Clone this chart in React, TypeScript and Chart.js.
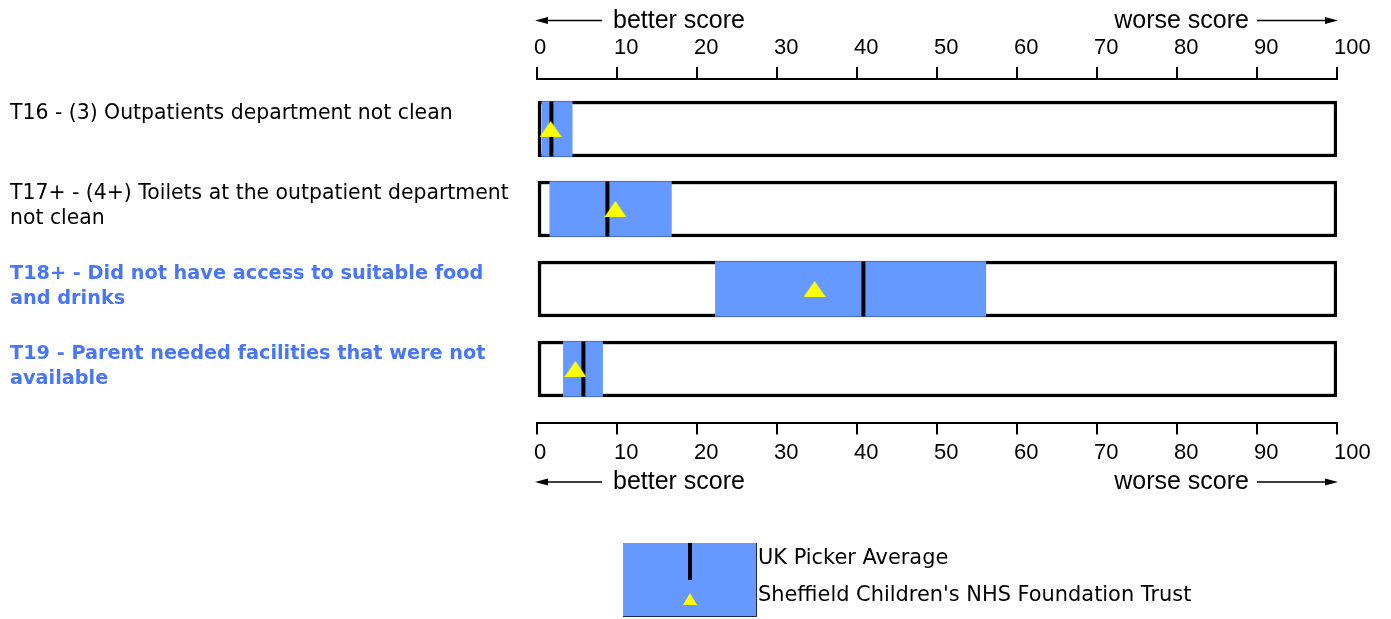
import React, { useEffect, useRef } from "react";
import { Chart, registerables } from "chart.js";

Chart.register(...registerables);

const rowLabels: string[][] = [
  ["T16 - (3) Outpatients department not clean", ""],
  ["T17+ - (4+) Toilets at the outpatient department", "not clean"],
  ["T18+ - Did not have access to suitable food", "and drinks"],
  ["T19 - Parent needed facilities that were not", "available"],
];
const boldRows = [false, false, true, true];
const labelColors = ["#000000", "#000000", "#4876f4", "#4876f4"];

const rangeLow = [0.6, 1.6, 22.3, 3.3];
const rangeHigh = [4.4, 16.8, 56.1, 8.2];
const pickerAverage = [1.8, 8.8, 40.8, 5.8];
const trustScore = [1.7, 9.8, 34.7, 4.8];

const axisMin = 0;
const axisMax = 100;
const axisStep = 10;

const betterText = "better score";
const worseText = "worse score";
const legendAverage = "UK Picker Average";
const legendTrust = "Sheffield Children's NHS Foundation Trust";

const BLUE = "#6699ff";
const YELLOW = "#ffff00";
const LABEL_FONT = '"DejaVu Sans", "Noto Sans", sans-serif';
const AXIS_FONT = '"Liberation Sans", Arial, sans-serif';

function makeTriangle(w: number, h: number, color: string) {
  const c = document.createElement("canvas");
  c.width = w;
  c.height = h;
  const g = c.getContext("2d")!;
  g.fillStyle = color;
  g.beginPath();
  g.moveTo(w / 2, 0);
  g.lineTo(w, h);
  g.lineTo(0, h);
  g.closePath();
  g.fill();
  return c;
}

function drawArrow(ctx: CanvasRenderingContext2D, x1: number, x2: number, y: number, dir: number) {
  ctx.save();
  ctx.strokeStyle = "#000";
  ctx.fillStyle = "#000";
  ctx.lineWidth = 1.5;
  ctx.beginPath();
  ctx.moveTo(x1, y);
  ctx.lineTo(x2 - dir * 8, y);
  ctx.stroke();
  ctx.beginPath();
  ctx.moveTo(x2, y);
  ctx.lineTo(x2 - dir * 13, y - 3.5);
  ctx.lineTo(x2 - dir * 13, y + 3.5);
  ctx.closePath();
  ctx.fill();
  ctx.restore();
}

const annotations = {
  id: "annotations",
  afterDraw(chart: any) {
    const ctx: CanvasRenderingContext2D = chart.ctx;
    const xs = chart.scales.x;
    const x0 = xs.getPixelForValue(axisMin);
    const x1 = xs.getPixelForValue(axisMax);
    const drawRow = (arrowY: number, baseY: number) => {
      ctx.save();
      ctx.font = `25px ${AXIS_FONT}`;
      ctx.fillStyle = "#000";
      ctx.textBaseline = "alphabetic";
      ctx.textAlign = "left";
      ctx.fillText(betterText, x0 + 76, baseY);
      ctx.textAlign = "right";
      ctx.fillText(worseText, x1 - 88, baseY);
      ctx.restore();
      drawArrow(ctx, x0 + 65, x0 - 2, arrowY, -1);
      drawArrow(ctx, x1 - 80, x1 + 1, arrowY, 1);
    };
    drawRow(20.5, 27.5);
    drawRow(482, 489);

    // legend
    ctx.save();
    const lx = 623, ly = 543, lw = 134, lh = 74;
    ctx.fillStyle = BLUE;
    ctx.fillRect(lx, ly, lw, lh);
    ctx.strokeStyle = "#1a2a55";
    ctx.lineWidth = 1;
    ctx.beginPath();
    ctx.moveTo(lx + lw - 0.5, ly);
    ctx.lineTo(lx + lw - 0.5, ly + lh - 0.5);
    ctx.lineTo(lx, ly + lh - 0.5);
    ctx.stroke();
    ctx.strokeStyle = "#000";
    ctx.lineWidth = 4;
    ctx.beginPath();
    ctx.moveTo(690, ly);
    ctx.lineTo(690, 580);
    ctx.stroke();
    const tri = makeTriangle(14, 12, YELLOW);
    ctx.drawImage(tri, 690 - 7, 599 - 6);
    ctx.fillStyle = "#000";
    ctx.font = `20.9px ${LABEL_FONT}`;
    ctx.textAlign = "left";
    ctx.textBaseline = "middle";
    ctx.fillText(legendAverage, 758, 559);
    ctx.fillText(legendTrust, 758, 596);
    ctx.restore();
  },
};

export default function App() {
  const ref = useRef<HTMLCanvasElement>(null);
  useEffect(() => {
    document.body.style.margin = "0";
    const tri = makeTriangle(22, 16, YELLOW);
    const xAxisCommon = {
      type: "linear" as const,
      axis: "x" as const,
      min: axisMin,
      max: axisMax,
      ticks: {
        stepSize: axisStep,
        color: "#000",
        font: { family: AXIS_FONT, size: 22 },
        maxRotation: 0,
        autoSkip: false,
        align: "start" as const,
        labelOffset: -3,
      },
      grid: { drawOnChartArea: false, drawTicks: true, tickLength: 12, color: "#000", lineWidth: 2 },
      border: { display: true, color: "#000", width: 2 },
    };
    const chart = new Chart(ref.current!, {
      type: "bar",
      data: {
        datasets: [
          {
            type: "scatter",
            label: legendTrust,
            data: trustScore.map((v, i) => ({ x: v, y: i })),
            pointStyle: tri as any,
            pointRadius: 11,
            order: 1,
          } as any,
          {
            type: "scatter",
            label: legendAverage,
            data: pickerAverage.map((v, i) => ({ x: v, y: i })),
            pointStyle: "line",
            pointRadius: 27.5,
            pointRotation: 90,
            pointBorderWidth: 4,
            pointBorderColor: "#000",
            borderColor: "#000",
            order: 2,
          } as any,
          {
            type: "bar",
            label: "range",
            data: rangeLow.map((lo, i) => ({ x: [lo, rangeHigh[i]], y: i })),
            backgroundColor: BLUE,
            borderWidth: 0,
            barThickness: 55,
            grouped: false,
            order: 3,
          } as any,
          {
            type: "bar",
            label: "frame",
            data: rowLabels.map((_, i) => ({ x: [axisMin, axisMax], y: i })),
            backgroundColor: "#ffffff",
            borderColor: "#000000",
            borderWidth: 3.5,
            borderSkipped: false,
            barThickness: 56,
            grouped: false,
            order: 4,
          } as any,
        ],
      },
      options: {
        indexAxis: "y",
        animation: false,
        responsive: false,
        layout: { padding: { left: 10, right: 54, top: 0, bottom: 136.5 } },
        plugins: { legend: { display: false }, tooltip: { enabled: false } },
        scales: {
          x: {
            ...xAxisCommon,
            position: "bottom",
            ticks: { ...xAxisCommon.ticks, padding: 5 },
            afterFit: (s: any) => {
              s.height = 60;
            },
          },
          x2: {
            ...xAxisCommon,
            position: "top",
            ticks: { ...xAxisCommon.ticks, padding: 6 },
            afterFit: (s: any) => {
              s.height = 79;
            },
          },
          y: {
            type: "linear",
            reverse: true,
            offset: false,
            min: -0.625,
            max: 3.669,
            afterBuildTicks: (s: any) => {
              s.ticks = rowLabels.map((_, i) => ({ value: i }));
            },
            ticks: {
              autoSkip: false,
              crossAlign: "far",
              labelOffset: -2.5,
              callback: (v: any) => rowLabels[v as number] ?? "",
              color: (c: any) => labelColors[c.index] ?? "#000",
              font: (c: any) => ({
                family: LABEL_FONT,
                size: boldRows[c.index] ? 19.3 : 20.4,
                weight: boldRows[c.index] ? "bold" : "normal",
                lineHeight: "25px",
              }),
            },
            grid: { display: false, offset: false },
            border: { display: false },
            afterFit: (s: any) => {
              s.width = 527;
            },
          },
        } as any,
      },
      plugins: [annotations],
    });
    return () => chart.destroy();
  }, []);
  return <canvas ref={ref} width={1391} height={619} style={{ display: "block" }} />;
}
